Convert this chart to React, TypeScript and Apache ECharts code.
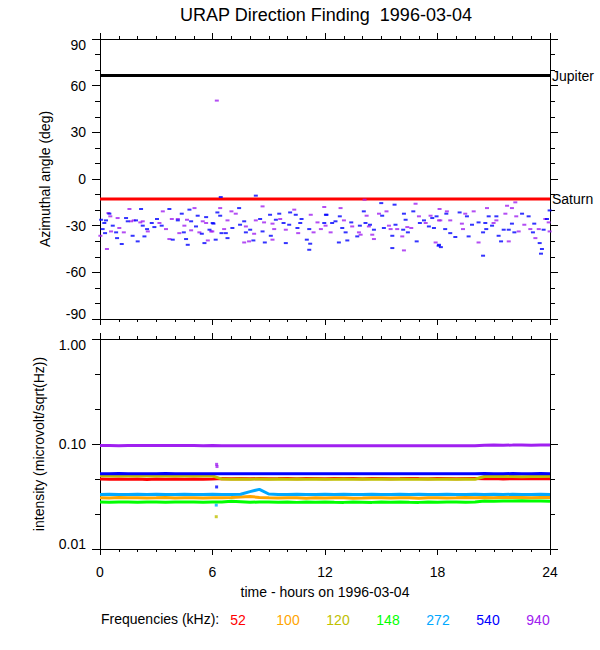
import React, { useEffect, useRef } from "react";
import * as echarts from "echarts";

const titleText = "URAP Direction Finding  1996-03-04";
const xAxisTitle = "time - hours on 1996-03-04";
const angleAxisTitle = "Azimuthal angle (deg)";
const intensityAxisTitle = "intensity (microvolt/sqrt(Hz))";
const legendTitle = "Frequencies (kHz):";

const planetNames = ["Jupiter", "Saturn"];
const planetAngles = [66.5, -12.8];
const planetColors = ["#000000", "#ff0000"];

const freqLabels = ["52", "100", "120", "148", "272", "540", "940"];
const freqColors = ["#ff0000", "#ffa500", "#c0c000", "#00ff00", "#00a8ff", "#0000ff", "#a020f0"];

const hours = [0, 0.5, 1, 1.5, 2, 2.5, 3, 3.5, 4, 4.5, 5, 5.5, 6, 6.5, 7, 7.5, 8, 8.5, 9, 9.5, 10, 10.5, 11, 11.5, 12, 12.5, 13, 13.5, 14, 14.5, 15, 15.5, 16, 16.5, 17, 17.5, 18, 18.5, 19, 19.5, 20, 20.5, 21, 21.5, 22, 22.5, 23, 23.5, 24];

const int52 = [0.0463, 0.0461, 0.0464, 0.0462, 0.0463, 0.0460, 0.0464, 0.0462, 0.0465, 0.0462, 0.0463, 0.0461, 0.0463,
  0.0468, 0.0467, 0.0470, 0.0467, 0.0469, 0.0467, 0.0468, 0.0470, 0.0467, 0.0469, 0.0468, 0.0467, 0.0469, 0.0468, 0.0470, 0.0467, 0.0468, 0.0469, 0.0467, 0.0468, 0.0470, 0.0468, 0.0467, 0.0469, 0.0468, 0.0467, 0.0469, 0.0468,
  0.0466, 0.0468, 0.0465, 0.0467, 0.0466, 0.0468, 0.0466, 0.0467];
const int100 = [0.0308, 0.0306, 0.0309, 0.0307, 0.0308, 0.0306, 0.0307, 0.0309, 0.0306, 0.0308, 0.0307, 0.0306, 0.0308,
  0.0307, 0.0309, 0.0313, 0.0316, 0.0310, 0.0307, 0.0306, 0.0308, 0.0307, 0.0305, 0.0307, 0.0306, 0.0308, 0.0307, 0.0305, 0.0306, 0.0308, 0.0307, 0.0306, 0.0308, 0.0307, 0.0305, 0.0307, 0.0308, 0.0306, 0.0307, 0.0309, 0.0308,
  0.0310, 0.0308, 0.0311, 0.0309, 0.0310, 0.0308, 0.0309, 0.0310];
const int120 = [0.0498, 0.0496, 0.0499, 0.0497, 0.0498, 0.0496, 0.0497, 0.0499, 0.0497, 0.0498, 0.0496, 0.0497, 0.0498,
  0.0463, 0.0461, 0.0464, 0.0462, 0.0465, 0.0461, 0.0463, 0.0462, 0.0464, 0.0461, 0.0463, 0.0462, 0.0461, 0.0464, 0.0462, 0.0463, 0.0461, 0.0464, 0.0462, 0.0463, 0.0461, 0.0462, 0.0464, 0.0462, 0.0463, 0.0461, 0.0464, 0.0462,
  0.0490, 0.0489, 0.0491, 0.0490, 0.0488, 0.0491, 0.0490, 0.0492];
const int148 = [0.0280, 0.0279, 0.0281, 0.0280, 0.0279, 0.0281, 0.0280, 0.0279, 0.0280, 0.0281, 0.0280, 0.0279, 0.0280,
  0.0281, 0.0285, 0.0282, 0.0279, 0.0280, 0.0281, 0.0279, 0.0280, 0.0278, 0.0280, 0.0279, 0.0281, 0.0279, 0.0278, 0.0280, 0.0279, 0.0278, 0.0280, 0.0279, 0.0281, 0.0279, 0.0278, 0.0280, 0.0279, 0.0281, 0.0280, 0.0279, 0.0281,
  0.0286, 0.0285, 0.0287, 0.0286, 0.0288, 0.0286, 0.0287, 0.0285];
const int272 = [0.0330, 0.0332, 0.0331, 0.0330, 0.0332, 0.0331, 0.0333, 0.0330, 0.0331, 0.0332, 0.0330, 0.0331, 0.0332,
  0.0331, 0.0330, 0.0332, 0.0352, 0.0370, 0.0334, 0.0331, 0.0330, 0.0332, 0.0331, 0.0330, 0.0332, 0.0331, 0.0333, 0.0330, 0.0331, 0.0332, 0.0331, 0.0330, 0.0332, 0.0331, 0.0333, 0.0331, 0.0330, 0.0332, 0.0331, 0.0330, 0.0332,
  0.0331, 0.0333, 0.0330, 0.0332, 0.0331, 0.0330, 0.0332, 0.0331];
const int540 = [0.0522, 0.0520, 0.0523, 0.0521, 0.0522, 0.0520, 0.0521, 0.0523, 0.0521, 0.0522, 0.0520, 0.0522, 0.0521,
  0.0522, 0.0520, 0.0521, 0.0522, 0.0521, 0.0520, 0.0522, 0.0521, 0.0522, 0.0520, 0.0521, 0.0522, 0.0521, 0.0520, 0.0522, 0.0521, 0.0522, 0.0521, 0.0520, 0.0522, 0.0521, 0.0522, 0.0521, 0.0522, 0.0521, 0.0520, 0.0522, 0.0521,
  0.0523, 0.0522, 0.0521, 0.0523, 0.0522, 0.0521, 0.0523, 0.0522];
const int940 = [0.0966, 0.0968, 0.0964, 0.0967, 0.0965, 0.0968, 0.0966, 0.0967, 0.0968, 0.0965, 0.0967, 0.0964, 0.0965,
  0.0962, 0.0961, 0.0962, 0.0962, 0.0961, 0.0962, 0.0962, 0.0961, 0.0962, 0.0962, 0.0961, 0.0962, 0.0962, 0.0962, 0.0961, 0.0962, 0.0962, 0.0961, 0.0962, 0.0962, 0.0961, 0.0962, 0.0962, 0.0961, 0.0962, 0.0961, 0.0962, 0.0962,
  0.0975, 0.0977, 0.0975, 0.0976, 0.0978, 0.0975, 0.0977, 0.0976];

const intensitySeries = [int52, int100, int120, int148, int272, int540, int940];
const drawOrder = [3, 1, 4, 0, 2, 5, 6];

// isolated intensity samples near 6.2 h: [freq index, hour, value]
const outlierFreq = [6, 6, 5, 4, 2];
const outlierHour = [6.22, 6.24, 6.22, 6.2, 6.2];
const outlierValue = [0.064, 0.061, 0.039, 0.0262, 0.0203];

// direction finding points [hour, azimuth deg]
const dir540 = [
  [0.06, -26.2], [0.23, -28.3], [0.32, -26.6], [0.14, -32.2], [0.27, -34.8], [0.68, -30.0], [0.50, -22.3], [0.86, -34.3],
  [0.91, -38.0], [1.16, -41.8], [1.39, -25.1], [1.48, -27.2], [1.74, -36.5], [1.92, -26.6], [2.01, -40.1], [2.19, -19.3],
  [2.28, -30.0], [2.37, -36.9], [2.51, -32.2], [2.76, -28.3], [2.90, -30.9], [3.04, -25.7], [3.29, -30.0], [3.70, -19.3],
  [3.88, -39.0], [4.15, -26.6], [4.36, -22.3], [4.47, -34.3], [4.59, -38.6], [4.68, -42.3], [4.77, -19.7], [4.86, -27.2],
  [5.12, -30.5], [5.21, -23.6], [5.43, -35.2], [5.57, -41.2], [5.66, -24.5], [5.84, -32.6], [6.01, -28.3],
  [6.44, -11.6], [8.31, -10.7], [6.05, -28.7], [6.26, -21.5], [6.41, -23.6], [6.48, -34.8], [6.71, -34.8], [6.80, -38.0],
  [6.17, -39.0], [7.06, -31.5], [7.42, -18.7], [7.47, -29.4], [7.69, -27.2], [7.78, -34.3], [8.01, -32.6], [8.18, -39.5],
  [8.54, -25.7], [8.67, -33.7], [8.79, -40.8], [9.07, -23.0], [9.11, -36.5], [9.38, -26.2], [9.56, -22.3], [9.79, -28.3],
  [9.91, -41.2], [10.09, -29.4], [10.14, -21.5], [10.44, -23.0], [10.53, -31.5], [10.75, -25.7], [10.68, -28.3], [11.03, -39.0],
  [11.16, -32.2], [11.21, -41.6], [11.16, -45.5], [11.96, -28.3], [12.05, -23.0],
  [12.08, -23.0], [12.38, -28.3], [12.56, -27.2], [12.79, -24.0], [12.74, -40.8], [12.92, -31.5], [13.10, -34.3], [13.19, -39.5],
  [13.40, -27.9], [13.72, -36.9], [13.86, -30.0], [14.07, -20.8], [14.16, -28.3], [14.40, -29.4], [14.61, -32.6], [15.00, -15.5],
  [15.05, -23.6], [15.14, -31.5], [15.59, -36.5], [15.71, -16.5], [15.76, -29.4], [15.59, -44.4], [16.21, -22.3], [16.30, -26.2],
  [16.17, -32.6], [16.42, -34.3], [16.71, -20.8], [16.89, -40.1], [17.06, -28.3], [17.28, -26.6], [17.54, -30.5], [17.72, -25.1],
  [17.81, -31.5], [17.95, -24.0], [18.08, -42.3],
  [18.06, -42.9], [18.18, -43.8], [18.47, -22.3], [18.41, -32.2], [18.68, -34.8], [18.95, -37.3], [19.18, -21.5], [19.57, -24.0],
  [19.66, -36.9], [19.84, -29.4], [20.19, -27.9], [20.43, -34.3], [20.55, -28.3], [20.60, -32.2], [20.73, -24.0], [20.91, -30.0],
  [21.14, -24.0], [21.26, -36.5], [21.39, -40.1], [21.53, -32.6], [21.80, -32.6], [21.97, -28.7], [22.10, -34.3], [22.51, -22.3],
  [22.86, -24.0], [23.09, -34.3], [23.16, -28.7], [23.45, -41.2], [23.57, -45.0], [23.52, -48.0], [23.66, -32.6], [23.84, -25.7],
  [23.98, -20.2], [20.43, -49.3]
];
const dir940 = [
  [0.02, -36.5], [0.37, -45.0], [0.45, -21.9], [0.55, -24.0], [0.59, -33.7], [0.94, -25.1], [1.03, -31.5], [1.27, -34.3],
  [1.57, -19.3], [1.66, -27.2], [1.80, -26.6], [2.15, -27.9], [2.28, -27.2], [2.55, -33.7], [3.17, -28.3], [3.35, -20.8],
  [3.52, -32.2], [3.70, -38.6], [3.83, -25.7], [4.15, -25.7], [4.23, -34.8], [4.50, -30.0], [4.64, -26.2], [4.86, -33.0],
  [5.04, -18.7], [5.30, -34.3], [5.48, -27.2], [5.66, -28.3], [5.75, -39.5], [5.93, -33.7],
  [6.23, 50.4],
  [6.41, -18.7], [7.01, -20.8], [7.24, -22.3], [6.80, -26.6], [6.62, -32.2], [5.99, -33.7], [7.78, -30.5], [7.95, -40.1],
  [8.22, -35.2], [8.31, -26.6], [8.67, -17.6], [8.75, -27.9], [9.20, -28.7], [9.29, -32.2], [9.61, -25.7], [9.91, -32.6],
  [10.36, -19.7], [10.57, -34.8], [11.24, -23.0], [11.39, -34.3], [11.60, -27.9], [11.78, -32.2], [11.96, -18.0], [9.20, -39.0],
  [7.69, -40.8],
  [12.03, -30.0], [14.11, -13.3], [12.83, -18.7], [12.30, -34.3], [13.01, -26.6], [13.45, -30.5], [13.81, -34.3], [13.90, -35.8],
  [14.22, -23.6], [14.34, -30.5], [14.52, -35.8], [14.61, -38.6], [14.88, -22.3], [15.28, -20.8], [15.41, -30.0], [15.50, -32.2],
  [15.85, -32.2], [16.12, -36.9], [16.21, -45.9], [16.39, -30.9], [16.60, -31.5], [16.83, -15.9], [17.01, -24.0], [17.37, -28.3],
  [17.63, -23.6], [17.90, -40.8], [18.08, -26.6],
  [18.11, -19.3], [18.15, -26.6], [18.50, -20.8], [18.68, -26.6], [19.30, -28.7], [19.36, -32.2], [19.48, -22.3], [19.93, -20.8],
  [20.19, -40.8], [20.64, -18.7], [20.99, -28.3], [21.14, -26.6], [21.62, -22.3], [21.71, -17.2], [21.80, -40.1], [21.97, -18.7],
  [22.15, -15.0], [22.20, -24.0], [22.33, -33.7], [22.63, -29.4], [22.95, -32.2], [23.22, -38.0], [23.40, -32.2], [23.75, -25.7],
  [23.93, -27.9], [23.98, -33.7]
];

const FONT = "'Liberation Sans', Arial, Helvetica, sans-serif";

function xAxis(gridIndex: number, position: "top" | "bottom", labels: boolean): any {
  return {
    type: "value",
    gridIndex,
    position,
    min: 0,
    max: 24,
    interval: 6,
    axisLine: { show: true, onZero: false, lineStyle: { color: "#000", width: 1 } },
    axisTick: { show: true, length: 6, lineStyle: { color: "#000" } },
    minorTick: { show: true, splitNumber: 6, length: 3, lineStyle: { color: "#000" } },
    splitLine: { show: false },
    axisLabel: { show: labels, color: "#000", fontSize: 14, fontFamily: FONT, margin: 16 },
    name: labels ? xAxisTitle : "",
    nameLocation: "middle",
    nameGap: 36,
    nameTextStyle: { color: "#000", fontSize: 14, fontFamily: FONT },
  };
}

function yAxis(gridIndex: number, position: "left" | "right", cfg: any): any {
  const labels = position === "left";
  return {
    type: "value",
    gridIndex,
    position,
    min: cfg.min,
    max: cfg.max,
    interval: cfg.interval,
    axisLine: { show: true, onZero: false, lineStyle: { color: "#000", width: 1 } },
    axisTick: { show: true, length: 8, lineStyle: { color: "#000" } },
    minorTick: { show: true, splitNumber: 3, length: 5, lineStyle: { color: "#000" } },
    splitLine: { show: false },
    axisLabel: {
      show: labels,
      color: "#000",
      fontSize: 14,
      fontFamily: FONT,
      margin: 14,
      formatter: (v: number) => {
        const txt = cfg.formatter(v);
        if (v === cfg.max) return "{mx|" + txt + "}";
        if (v === cfg.min) return "{mn|" + txt + "}";
        return txt;
      },
      rich: {
        mx: { color: "#000", fontSize: 14, fontFamily: FONT, padding: [12, 0, 0, 0] },
        mn: { color: "#000", fontSize: 14, fontFamily: FONT, padding: [0, 0, 10, 0] },
      },
    },
    name: labels ? cfg.name : "",
    nameLocation: "middle",
    nameGap: cfg.nameGap,
    nameTextStyle: { color: "#000", fontSize: 14, fontFamily: FONT },
  };
}

export default function App() {
  const ref = useRef<HTMLDivElement>(null);
  useEffect(() => {
    if (!ref.current) return;
    const chart = echarts.init(ref.current, undefined, { renderer: "svg" });

    const angleCfg = { min: -90, max: 90, interval: 30, name: angleAxisTitle, nameGap: 48, formatter: (v: number) => String(v) };
    const intCfg = {
      min: -2, max: 0, interval: 1, name: intensityAxisTitle, nameGap: 54,
      formatter: (v: number) => Math.pow(10, v).toFixed(2),
    };

    const series: any[] = [];
    planetNames.forEach((name, i) => {
      series.push({
        type: "line",
        name,
        xAxisIndex: 0,
        yAxisIndex: 0,
        data: [[0, planetAngles[i]], [24, planetAngles[i]]],
        showSymbol: false,
        symbol: "none",
        lineStyle: { color: planetColors[i], width: 3 },
        itemStyle: { color: planetColors[i] },
        endLabel: { show: true, formatter: name, color: "#000", fontSize: 14, fontFamily: FONT, distance: 2 },
        z: 3,
      });
    });
    series.push({
      type: "scatter",
      name: "940 dir",
      xAxisIndex: 0,
      yAxisIndex: 0,
      data: dir940,
      symbol: "rect",
      symbolSize: [4, 2],
      itemStyle: { color: freqColors[6] },
      z: 4,
    });
    series.push({
      type: "scatter",
      name: "540 dir",
      xAxisIndex: 0,
      yAxisIndex: 0,
      data: dir540,
      symbol: "rect",
      symbolSize: [4, 2],
      itemStyle: { color: freqColors[5] },
      z: 4,
    });
    drawOrder.forEach((fi) => {
      series.push({
        type: "line",
        name: freqLabels[fi],
        xAxisIndex: 2,
        yAxisIndex: 2,
        data: hours.map((h, j) => [h, Math.log10(intensitySeries[fi][j])]),
        showSymbol: false,
        symbol: "none",
        lineStyle: { color: freqColors[fi], width: 3 },
        itemStyle: { color: freqColors[fi] },
      });
    });
    series.push({
      type: "scatter",
      name: "outliers",
      xAxisIndex: 2,
      yAxisIndex: 2,
      symbol: "rect",
      symbolSize: [3, 3],
      data: outlierFreq.map((fi, k) => ({
        value: [outlierHour[k], Math.log10(outlierValue[k])],
        itemStyle: { color: freqColors[fi] },
      })),
    });

    const legendGraphics: any[] = [
      {
        type: "text",
        left: 101,
        top: 612,
        style: { text: legendTitle, fill: "#000", fontSize: 14, fontFamily: FONT },
      },
    ];
    freqLabels.forEach((lab, i) => {
      legendGraphics.push({
        type: "text",
        x: 238 + i * 50,
        y: 620,
        style: {
          text: lab,
          fill: freqColors[i],
          fontSize: 14,
          fontFamily: FONT,
          textAlign: "center",
          textVerticalAlign: "middle",
        },
      });
    });

    chart.setOption({
      animation: false,
      backgroundColor: "#fff",
      title: {
        text: titleText,
        left: 326,
        textAlign: "center",
        top: 6,
        padding: 0,
        textStyle: { color: "#000", fontSize: 18, fontWeight: "normal", fontFamily: FONT },
      },
      grid: [
        { left: 100, top: 39, width: 450, height: 280 },
        { left: 100, top: 339, width: 450, height: 210 },
      ],
      xAxis: [
        xAxis(0, "bottom", false),
        xAxis(0, "top", false),
        xAxis(1, "bottom", true),
        xAxis(1, "top", false),
      ],
      yAxis: [
        yAxis(0, "left", angleCfg),
        yAxis(0, "right", angleCfg),
        yAxis(1, "left", intCfg),
        yAxis(1, "right", intCfg),
      ],
      graphic: legendGraphics,
      series,
    });
    return () => chart.dispose();
  }, []);
  return (
    <div
      ref={ref}
      style={{ position: "absolute", left: 0, top: 0, width: 600, height: 650, background: "#fff" }}
    />
  );
}
